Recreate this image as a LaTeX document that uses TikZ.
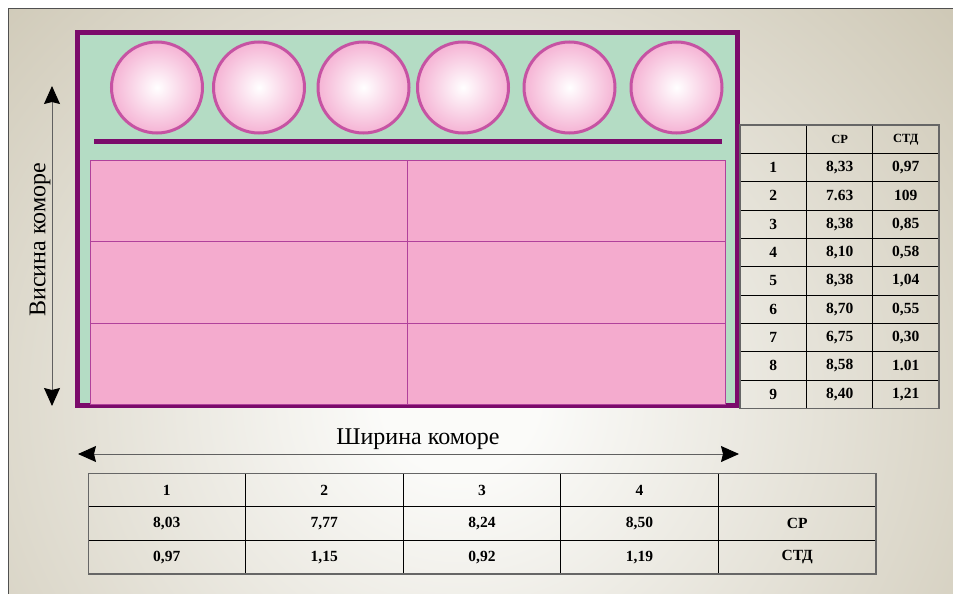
\documentclass[tikz,border=0pt]{standalone}
\usepackage{fontspec}
\setmainfont{Liberation Serif}
\usetikzlibrary{arrows.meta}
\definecolor{bgout}{HTML}{CFC9B7}
\definecolor{bgin}{HTML}{FBFBF9}
\definecolor{framegray}{HTML}{505050}
\definecolor{plum}{HTML}{7B0B6B}
\definecolor{mint}{HTML}{B4DCC4}
\definecolor{ballrim}{HTML}{C653A3}
\definecolor{ballout}{HTML}{F5B3D4}
\definecolor{cellpink}{HTML}{F4ABCE}
\definecolor{cellline}{HTML}{B0419B}
\definecolor{arrowgray}{HTML}{606060}
\pgfdeclareradialshading{bgshade}{\pgfpoint{0bp}{0bp}}{color(0bp)=(bgin); color(3bp)=(bgin); color(25bp)=(bgout); color(50bp)=(bgout)}
\pgfdeclareradialshading{ballshade}{\pgfpoint{0bp}{0bp}}{color(0bp)=(white); color(25bp)=(ballout); color(50bp)=(ballout)}
\tikzset{
  ball/.style={circle, minimum size=91pt, inner sep=0pt, draw=ballrim, line width=3pt, shade, shading=ballshade},
  tline/.style={black, line width=0.8pt},
  tframe/.style={draw=black!60, line width=1.6pt},
  tcell/.style={font=\bfseries\fontsize{15.5}{15.5}\selectfont, inner sep=0pt},
  thead/.style={font=\bfseries\fontsize{12.5}{12.5}\selectfont, inner sep=0pt},
  dimarrow/.style={arrowgray, line width=0.9pt, {Stealth[length=18pt,width=16pt,inset=2pt,color=black]}-{Stealth[length=18pt,width=16pt,inset=2pt,color=black]}},
  dimlabel/.style={font=\fontsize{24}{24}\selectfont, inner sep=0pt}
}
\begin{document}
\begin{tikzpicture}[x=1pt,y=-1pt]
\useasboundingbox (0,0) rectangle (953,594);
\fill[white] (0,0) rectangle (953,594);
% background
\begin{scope}
\clip (8.5,8.5) rectangle (953,594);
\fill[bgout] (8.5,8.5) rectangle (953,594);
\shade[shading=bgshade] (460,400) ellipse (640 and 600);
\end{scope}
\draw[framegray, line width=1.5pt] (953,8.5) -- (8.5,8.5) -- (8.5,594);
% chamber
\draw[plum, line width=4.5pt, fill=mint] (77.5,32.5) rectangle (737.5,405.5);
\foreach \i/\x in {1/157,2/259,3/363.5,4/463,5/569.5,6/676.5}
  \node[ball] (b\i) at (\x,87.5) {};
\draw[plum, line width=5pt] (94,141) -- (722,141);
\draw[cellline, fill=cellpink, line width=1pt] (90.5,160.5) rectangle (725.5,404);
\draw[cellline, line width=1pt] (407.7,160.5) -- (407.7,404)
  (90.5,241.7) -- (725.5,241.7) (90.5,323.3) -- (725.5,323.3);
% dimension arrows
\coordinate (vt) at (52,86);
\coordinate (vb) at (52,406);
\draw[dimarrow] (vt) -- (vb);
\node[dimlabel, rotate=90] (hlabel) at (40,240) {Висина коморе};
\coordinate (hl) at (78,454);
\coordinate (hr) at (739,454);
\draw[dimarrow] (hl) -- (hr);
\node[dimlabel] (wlabel) at (418,439) {Ширина коморе};
% right table
\foreach \k in {0,...,10} {
  \pgfmathsetmacro\yy{125+28.33*\k}
  \draw[tline] (740,\yy) -- (939,\yy);
}
\foreach \xx in {740,806.7,872.7,939} \draw[tline] (\xx,125) -- (\xx,408.3);
\draw[tframe] (740,125) rectangle (939,408.3);
\node[thead] (rh2) at (839.7,139.2) {СР};
\node[thead] (rh3) at (905.8,139.2) {СТД};
\foreach \r/\a/\b [count=\k] in {1/{8,33}/{0,97}, 2/{7.63}/{109}, 3/{8,38}/{0,85}, 4/{8,10}/{0,58}, 5/{8,38}/{1,04}, 6/{8,70}/{0,55}, 7/{6,75}/{0,30}, 8/{8,58}/{1.01}, 9/{8,40}/{1,21}} {
  \pgfmathsetmacro\yy{125+28.33*\k+14.17}
  \node[tcell] (rn\k) at (773.3,\yy) {\r};
  \node[tcell] (ra\k) at (839.7,\yy) {\a};
  \node[tcell] (rb\k) at (905.8,\yy) {\b};
}
% bottom table
\foreach \yy in {473.3,506.7,540.3,574} \draw[tline] (88.3,\yy) -- (876,\yy);
\foreach \xx in {88.3,245.3,403.3,560.7,718.3,876} \draw[tline] (\xx,473.3) -- (\xx,574);
\draw[tframe] (88.3,473.3) rectangle (876,574);
\foreach \c/\h/\a/\b [count=\k] in {166.8/1/{8,03}/{0,97}, 324.3/2/{7,77}/{1,15}, 482/3/{8,24}/{0,92}, 639.5/4/{8,50}/{1,19}} {
  \node[tcell] (bh\k) at (\c,490) {\h};
  \node[tcell] (ba\k) at (\c,523.5) {\a};
  \node[tcell] (bb\k) at (\c,557.2) {\b};
}
\node[tcell] (bsr) at (797.2,523.5) {СР};
\node[tcell] (bstd) at (797.2,557.2) {СТД};
\end{tikzpicture}
\end{document}
